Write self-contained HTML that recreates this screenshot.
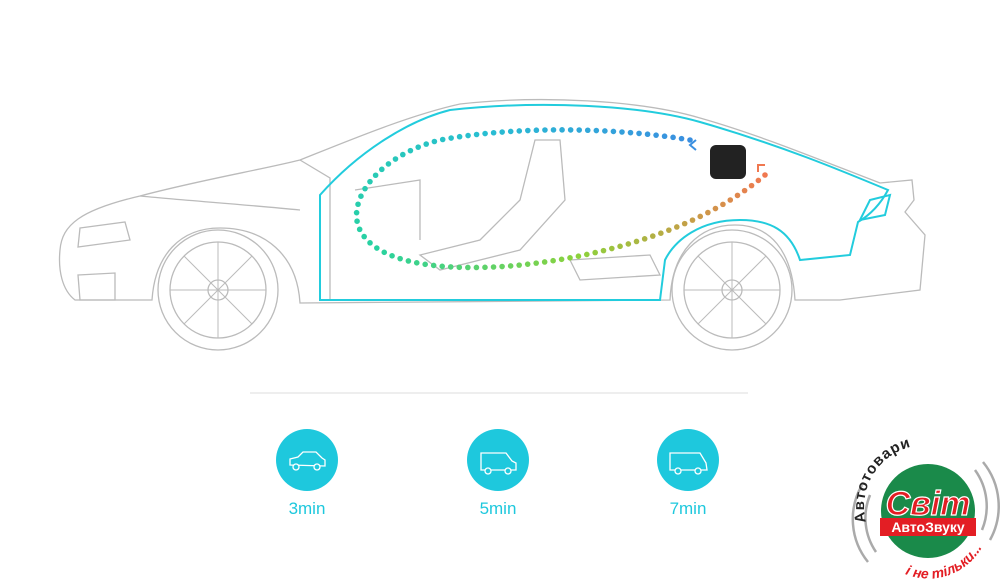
<!DOCTYPE html>
<html><head><meta charset="utf-8"><style>
body{margin:0;background:#fff;width:1000px;height:583px;overflow:hidden;font-family:"Liberation Sans",sans-serif}
.lbl{position:absolute;color:#1ec8dd;font-size:17px;width:80px;text-align:center}
</style></head><body>
<svg width="1000" height="583" style="position:absolute;left:0;top:0">
<g fill="none" stroke="#bbb" stroke-width="1.3">
<path d="M60 250 C62 225 80 210 140 196 C200 180 260 170 300 160 C350 140 410 115 460 104 C540 95 640 100 700 118 C760 135 820 160 880 183 L912 180 L914 200 L905 212 L925 235 L920 290 L840 300 L795 300 C792 250 770 225 735 225 C700 225 672 250 670 300 L300 303 C297 255 265 228 220 228 C180 228 155 255 152 300 L75 300 C62 290 58 270 60 250Z"/>
<path d="M80 228 L125 222 L130 240 L78 247Z"/>
<path d="M78 275 L115 273 L115 300 L80 300Z"/>
<path d="M140 196 C180 200 250 205 300 210"/>
<path d="M300 160 L330 178 L330 300"/>
<circle cx="218" cy="290" r="60"/><circle cx="218" cy="290" r="48"/><circle cx="218" cy="290" r="10"/>
<circle cx="732" cy="290" r="60"/><circle cx="732" cy="290" r="48"/><circle cx="732" cy="290" r="10"/>
<path d="M535 140 L560 140 L565 200 L520 250 L440 270 L420 255 L480 240 L520 200Z"/>
<path d="M355 190 L420 180 L420 240"/>
<path d="M570 260 L650 255 L660 275 L580 280Z"/>
</g>
<g stroke="#bbb" stroke-width="1">
<path d="M218 290 L218 242 M218 290 L252 256 M218 290 L266 290 M218 290 L252 324 M218 290 L218 338 M218 290 L184 324 M218 290 L170 290 M218 290 L184 256"/>
<path d="M732 290 L732 242 M732 290 L766 256 M732 290 L780 290 M732 290 L766 324 M732 290 L732 338 M732 290 L698 324 M732 290 L684 290 M732 290 L698 256"/>
</g>
<g fill="none" stroke="#22ccdd" stroke-width="2">
<path d="M320 300 L320 195 C360 150 410 120 450 110 C540 100 640 105 700 122 C780 145 840 170 888 190 C880 205 870 215 858 222 L850 255 L800 260 C790 230 770 220 740 220 C700 220 675 240 665 260 L660 300 Z"/>
<path d="M870 200 L890 195 L885 215 L860 220Z"/>
</g>
<path id="dp" d="M690 140 C620 128 520 125 440 140 C380 155 345 200 360 230 C375 260 430 272 510 266 C600 258 700 230 765 175" fill="none" stroke="none"/>
<g id="dots"></g>
<rect x="710" y="145" width="36" height="34" rx="6" fill="#222"/>
<path d="M696 140 L690 145 L696 150" stroke="#3a8fe0" stroke-width="2" fill="none"/>
<path d="M758 172 L758 165 L765 165" stroke="#f07850" stroke-width="2" fill="none"/>
<line x1="250" y1="393" x2="748" y2="393" stroke="#ddd"/>
<g fill="#1ec8dd"><circle cx="307" cy="460" r="31"/><circle cx="498" cy="460" r="31"/><circle cx="688" cy="460" r="31"/></g>
<g fill="none" stroke="#fff" stroke-width="1.3">
<path d="M290 465 L290 459 L298 457 L303 452 L316 452 L322 458 L325 460 L325 466 Z"/><circle cx="296" cy="467" r="3" fill="#1ec8dd"/><circle cx="317" cy="467" r="3" fill="#1ec8dd"/>
<path d="M481 470 L481 453 L506 453 L512 461 L516 463 L516 470 Z"/><circle cx="488" cy="471" r="3" fill="#1ec8dd"/><circle cx="508" cy="471" r="3" fill="#1ec8dd"/>
<path d="M670 470 L670 453 L700 453 L706 463 L707 470 Z"/><circle cx="678" cy="471" r="3" fill="#1ec8dd"/><circle cx="698" cy="471" r="3" fill="#1ec8dd"/>
</g>
<defs>
<path id="arcT" d="M866 522 A62 62 0 0 1 982 480"/>
<path id="arcB" d="M905 574 A62 62 0 0 0 990 522"/>
</defs>
<g fill="none" stroke="#aaa" stroke-width="2.5">
<path d="M870 495 A60 60 0 0 0 876 552"/>
<path d="M862 485 A68 68 0 0 0 868 562"/>
<path d="M975 470 A62 62 0 0 1 982 530"/>
<path d="M983 462 A70 70 0 0 1 990 540"/>
</g>
<circle cx="928" cy="511" r="47" fill="#1a8a4a"/>
<text x="928" y="515" font-size="34" font-weight="bold" font-style="italic" fill="#e31e24" text-anchor="middle" stroke="#fff" stroke-width="1.2">Світ</text>
<rect x="880" y="518" width="96" height="18" fill="#e31e24"/>
<text x="928" y="532" font-size="14" font-weight="bold" fill="#fff" text-anchor="middle">АвтоЗвуку</text>
<text font-size="15" font-weight="bold" fill="#222" letter-spacing="1"><textPath href="#arcT">Автотовари</textPath></text>
<text font-size="14" font-style="italic" font-weight="bold" fill="#e31e24"><textPath href="#arcB">і не тільки...</textPath></text>
</svg>
<div class="lbl" style="left:267px;top:499px">3min</div>
<div class="lbl" style="left:458px;top:499px">5min</div>
<div class="lbl" style="left:648px;top:499px">7min</div>
<script>
var p=document.getElementById('dp'),g=document.getElementById('dots'),L=p.getTotalLength(),n=Math.floor(L/8.5);
var cs=[[58,143,224],[40,190,210],[40,210,160],[140,210,60],[240,120,80]];
for(var i=0;i<=n;i++){var t=i/n,pt=p.getPointAtLength(t*L),s=t*(cs.length-1),k=Math.min(Math.floor(s),cs.length-2),f=s-k;
var c=cs[k].map(function(v,j){return Math.round(v+(cs[k+1][j]-v)*f)});
var e=document.createElementNS('http://www.w3.org/2000/svg','circle');e.setAttribute('cx',pt.x);e.setAttribute('cy',pt.y);e.setAttribute('r',2.8);e.setAttribute('fill','rgb('+c+')');g.appendChild(e);}
</script>
</body></html>
